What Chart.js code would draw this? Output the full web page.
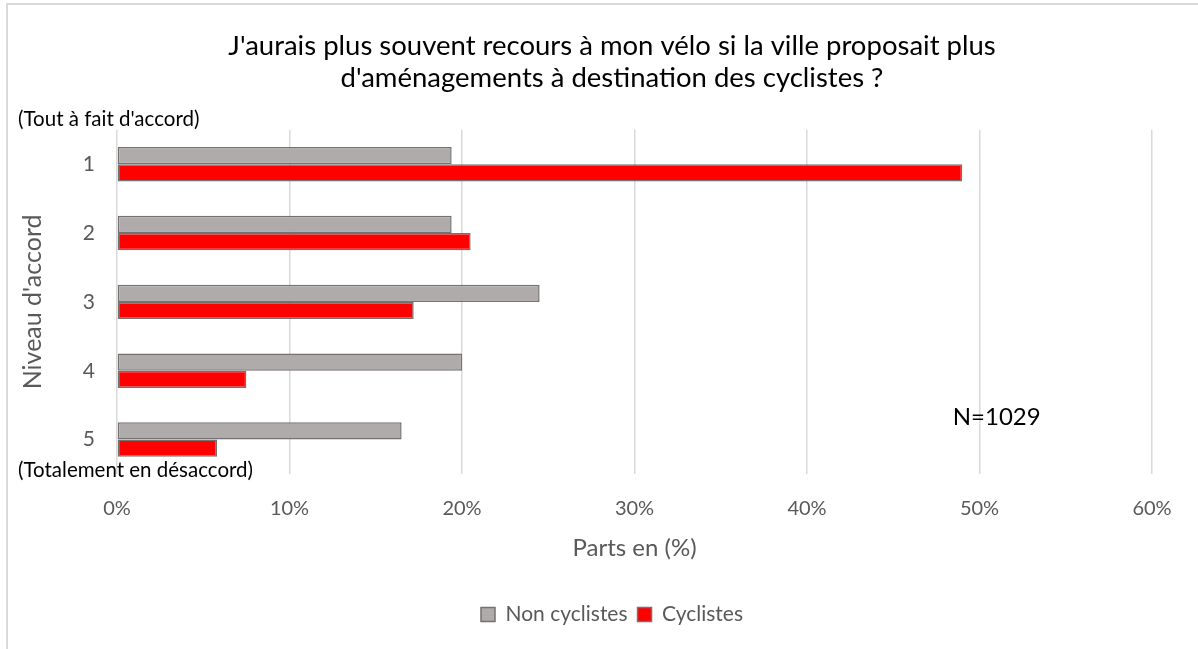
<!DOCTYPE html>
<html lang="fr">
<head>
<meta charset="utf-8">
<title>Recours au vélo</title>
<script src="https://cdn.jsdelivr.net/npm/chart.js@4.4.0/dist/chart.umd.min.js"></script>
<style>
  html, body { margin: 0; padding: 0; background: #fff; }
  #wrap { width: 1198px; height: 649px; }
</style>
</head>
<body>
<div id="wrap"><canvas id="velo"></canvas></div>
<script>
const niveaux = ['1', '2', '3', '4', '5'];
const nonCyclistes = [19.4, 19.4, 24.5, 20.0, 16.5];
const cyclistes = [49.0, 20.5, 17.2, 7.5, 5.8];
const xTicks = [0, 10, 20, 30, 40, 50, 60];

const FONT = 'Lato, "Open Sans", sans-serif';
const GREY_TXT = '#595959';

// frame lines (top and left only) plus the extra texts
const extras = {
  id: 'extras',
  beforeDraw(chart) {
    const ctx = chart.ctx;
    ctx.save();
    ctx.fillStyle = '#fff';
    ctx.fillRect(0, 0, chart.width, chart.height);
    ctx.strokeStyle = '#d9d9d9';
    ctx.lineWidth = 2;
    ctx.beginPath();
    ctx.moveTo(7, chart.height);
    ctx.lineTo(7, 4);
    ctx.lineTo(chart.width, 4);
    ctx.stroke();
    ctx.restore();
  },
  afterDraw(chart) {
    const ctx = chart.ctx;
    const x = chart.scales.x;
    const y = chart.scales.y;
    ctx.save();
    ctx.fillStyle = '#000';
    ctx.font = '20.5px ' + FONT;
    ctx.textAlign = 'left';
    ctx.textBaseline = 'middle';
    ctx.fillText("(Tout à fait d'accord)", 18, y.top - 10);
    ctx.fillText('(Totalement en désaccord)', 18, y.bottom - 4);
    ctx.font = '24px ' + FONT;
    ctx.textAlign = 'center';
    ctx.fillText('N=1029', x.getPixelForValue(51), y.getPixelForValue(3.67));
    ctx.restore();
  }
};

new Chart(document.getElementById('velo'), {
  type: 'bar',
  data: {
    labels: niveaux,
    datasets: [
      {
        label: 'Non cyclistes',
        data: nonCyclistes,
        backgroundColor: '#afabab',
        borderColor: '#767171',
        borderWidth: 1.5,
        borderSkipped: false,
        categoryPercentage: 0.5,
        barPercentage: 1.0
      },
      {
        label: 'Cyclistes',
        data: cyclistes,
        backgroundColor: '#ff0000',
        borderColor: '#767171',
        borderWidth: 1.5,
        borderSkipped: false,
        categoryPercentage: 0.5,
        barPercentage: 1.0
      }
    ]
  },
  options: {
    indexAxis: 'y',
    responsive: true,
    maintainAspectRatio: false,
    animation: false,
    // title and legend are centred on the whole frame, so the box runs a bit past the right edge
    layout: { padding: { left: 18, right: -8, top: 0, bottom: 14 } },
    plugins: {
      title: {
        display: true,
        text: [
          "J'aurais plus souvent recours à mon vélo si la ville proposait plus",
          "d'aménagements à destination des cyclistes ?"
        ],
        color: '#000',
        font: { family: FONT, size: 27.5, weight: 'normal', lineHeight: 1.16 },
        padding: { top: 30, bottom: 36 }
      },
      legend: {
        position: 'bottom',
        labels: {
          color: GREY_TXT,
          font: { family: FONT, size: 21 },
          boxWidth: 14,
          boxHeight: 14,
          padding: 10
        }
      },
      tooltip: { enabled: false }
    },
    scales: {
      x: {
        min: 0,
        max: 60,
        afterBuildTicks(scale) {
          scale.ticks = xTicks.map(v => ({ value: v }));
        },
        afterFit(scale) { scale.height = 120; },
        grid: { color: '#d9d9d9', lineWidth: 1.5, drawTicks: false },
        border: { display: false },
        ticks: {
          color: GREY_TXT,
          font: { family: FONT, size: 20 },
          padding: 23,
          callback: v => v + '%'
        },
        title: {
          display: true,
          text: 'Parts en (%)',
          color: GREY_TXT,
          font: { family: FONT, size: 24 },
          padding: { top: 13, bottom: 31 }
        }
      },
      y: {
        afterFit(scale) { scale.width = 99; },
        grid: { display: false, drawTicks: false },
        border: { display: false },
        ticks: {
          color: GREY_TXT,
          font: { family: FONT, size: 21 },
          padding: 22
        },
        title: {
          display: true,
          text: "Niveau d'accord",
          color: GREY_TXT,
          font: { family: FONT, size: 25 },
          padding: { top: 0, bottom: 0 }
        }
      },
      // empty right-hand gutter between the last gridline and the frame edge
      gutter: {
        axis: 'y',
        type: 'category',
        position: 'right',
        afterFit(scale) { scale.width = 54; },
        grid: { display: false, drawTicks: false },
        border: { display: false },
        ticks: { display: false }
      }
    }
  },
  plugins: [extras]
});
</script>
</body>
</html>
